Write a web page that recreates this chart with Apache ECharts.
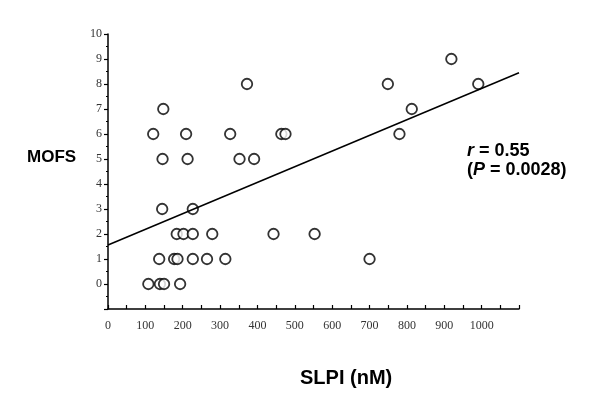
<!DOCTYPE html>
<html>
<head>
<meta charset="utf-8">
<script src="https://cdn.jsdelivr.net/npm/echarts@6/dist/echarts.min.js"></script>
<style>html,body{margin:0;padding:0;background:#fff}#c{width:600px;height:411px}</style>
</head>
<body>
<div id="c"></div>
<script>
var slpiValues = [148,121,209,327,464,475,146,213,352,391,372,145,227,184,202,227,279,443,553,137,177,186,227,265,314,108,139,150,193,919,749,991,813,780,700];
var mofsValues = [7,6,6,6,6,6,5,5,5,5,8,3,3,2,2,2,2,2,2,1,1,1,1,1,1,0,0,0,0,9,8,8,7,6,1];
var fitLineX = [0, 1100];
var fitLineY = [1.56, 8.45];
var xTickLabels = [0,100,200,300,400,500,600,700,800,900,1000];
var yTickLabels = [0,1,2,3,4,5,6,7,8,9,10];

var points = slpiValues.map(function(x,i){return [x, mofsValues[i]];});
var fit = fitLineX.map(function(x,i){return [x, fitLineY[i]];});

var chart = echarts.init(document.getElementById('c'));
chart.setOption({
  animation:false,
  backgroundColor:'#fff',
  grid:{left:108,right:81,top:34,bottom:102},
  title:[{
    text:'MOFS', left:22, top:144,
    textStyle:{fontFamily:'Liberation Sans',fontWeight:'bold',fontSize:17,color:'#000'}
  },{
    text:'SLPI (nM)', left:295, top:363,
    textStyle:{fontFamily:'Liberation Sans',fontWeight:'bold',fontSize:20,color:'#000'}
  },{
    text:'{i|r}{n| = 0.55}\n{n|(}{i|P}{n| = 0.0028)}', left:462, top:137,
    textStyle:{
      lineHeight:19,
      rich:{
        i:{fontFamily:'Liberation Sans',fontWeight:'bold',fontStyle:'italic',fontSize:18,color:'#000',lineHeight:19},
        n:{fontFamily:'Liberation Sans',fontWeight:'bold',fontSize:18,color:'#000',lineHeight:19}
      }
    }
  }],
  xAxis:{
    type:'value', min:0, max:1100, interval:50,
    axisLine:{onZero:false,lineStyle:{color:'#000',width:1.5}},
    axisTick:{show:true,inside:true,length:4,lineStyle:{color:'#000',width:1.2}},
    splitLine:{show:false},
    axisLabel:{
      margin:11, fontFamily:'Liberation Serif', fontSize:12, color:'#333',
      formatter:function(v){return xTickLabels.indexOf(v)>=0 ? String(v) : '';}
    }
  },
  yAxis:{
    type:'value', min:-1, max:10, interval:1,
    axisLine:{show:true,onZero:false,lineStyle:{color:'#000',width:1.5}},
    axisTick:{show:true,inside:false,length:4,lineStyle:{color:'#000',width:1.2}},
    minorTick:{show:true,splitNumber:2,length:2,lineStyle:{color:'#000',width:1}},
    splitLine:{show:false},
    axisLabel:{
      margin:6, fontFamily:'Liberation Serif', fontSize:12, color:'#333',
      formatter:function(v){return yTickLabels.indexOf(v)>=0 ? String(v) : '';}
    }
  },
  series:[{
    type:'line', data:fit, symbol:'none', silent:true,
    lineStyle:{color:'#000',width:1.5}
  },{
    type:'scatter', data:points, symbol:'circle', symbolSize:10.5,
    itemStyle:{color:'#fff',borderColor:'#000',borderWidth:1.8}
  }]
});
</script>
</body>
</html>
